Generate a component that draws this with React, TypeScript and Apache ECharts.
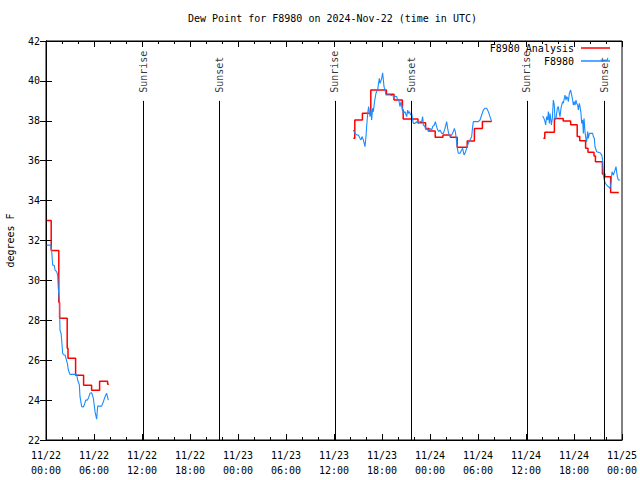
import React, { useEffect, useRef } from 'react';
import * as echarts from 'echarts';

const TITLE = 'Dew Point for F8980 on 2024-Nov-22 (time in UTC)';
const Y_NAME = 'degrees F';
const ANALYSIS_NAME = 'F8980 Analysis';
const OBS_NAME = 'F8980';

// hours since 2024-11-22 00:00 UTC
const X_TICK_LABELS = [
  '11/22\n00:00', '11/22\n06:00', '11/22\n12:00', '11/22\n18:00',
  '11/23\n00:00', '11/23\n06:00', '11/23\n12:00', '11/23\n18:00',
  '11/24\n00:00', '11/24\n06:00', '11/24\n12:00', '11/24\n18:00',
  '11/25\n00:00',
];

// Analysis (step levels: start hour, value; last entry = end of segment)
const analysisHours1 = [0.08, 0.65, 1.6, 1.7, 2.65, 2.75, 3.7, 4.7, 5.7, 6.7, 7.7, 7.85];
const analysisValues1 = [33.0, 31.5, 28.9, 28.1, 26.6, 26.1, 25.25, 24.75, 24.5, 24.95, 24.8, 24.8];
const analysisHours2 = [38.42, 38.6, 39.55, 40.6, 42.55, 43.5, 44.55, 44.65, 46.5, 47.45, 47.85, 48.65, 49.62, 50.55, 51.4, 52.65, 53.55, 54.55, 55.71];
const analysisValues2 = [37.12, 38.04, 38.38, 39.55, 39.33, 39.04, 38.54, 38.09, 37.9, 37.62, 37.49, 37.17, 37.29, 37.17, 36.67, 36.99, 37.62, 37.96, 37.96];
const analysisHours3 = [62.17, 62.35, 63.55, 64.65, 65.58, 66.4, 66.72, 67.45, 67.75, 68.5, 68.68, 69.55, 69.85, 70.58, 71.6];
const analysisValues3 = [37.12, 37.42, 38.12, 37.99, 37.8, 37.21, 37.0, 36.62, 36.42, 36.23, 35.95, 35.33, 35.2, 34.4, 34.4];

// Observations
const obsHours1 = [0.08, 0.58, 0.71, 0.83, 1.04, 1.13, 1.33, 1.46, 1.54, 1.67, 1.75, 1.88, 1.96, 2.08, 2.25, 2.38, 2.5, 2.67, 2.79, 3.0, 3.83, 3.96, 4.17, 4.25, 4.46, 4.67, 4.79, 4.96, 5.17, 5.29, 5.5, 5.71, 5.92, 6.13, 6.33, 6.46, 6.58, 6.96, 7.17, 7.38, 7.58, 7.79];
const obsValues1 = [31.77, 31.77, 31.49, 30.77, 30.74, 30.52, 30.44, 30.27, 29.6, 29.02, 27.51, 27.35, 27.01, 26.35, 26.26, 26.26, 26.09, 25.84, 25.51, 25.29, 25.29, 25.01, 24.76, 24.17, 23.67, 23.66, 23.75, 24.0, 24.0, 24.09, 24.34, 24.37, 24.09, 23.42, 23.04, 23.7, 23.7, 23.7, 23.92, 24.17, 24.34, 24.0];
const obsHours2 = [38.42, 38.625, 38.83, 39.04, 39.25, 39.375, 39.5, 39.67, 39.875, 40.0, 40.08, 40.21, 40.33, 40.5, 40.625, 40.71, 40.83, 40.92, 41.04, 41.17, 41.25, 41.33, 41.46, 41.54, 41.67, 41.75, 41.83, 41.96, 42.08, 42.17, 42.25, 42.375, 42.5, 42.79, 43.0, 43.42, 43.83, 43.96, 44.08, 44.25, 44.375, 44.5, 44.67, 44.875, 45.08, 45.21, 45.29, 45.42, 45.58, 45.71, 45.83, 45.92, 46.125, 46.33, 46.54, 46.75, 46.96, 47.08, 47.17, 47.375, 47.5, 47.67, 47.79, 48.0, 48.21, 48.33, 48.54, 48.67, 48.83, 48.96, 49.125, 49.25, 49.46, 49.67, 49.875, 50.08, 50.21, 50.33, 50.5, 50.71, 50.92, 51.04, 51.17, 51.25, 51.42, 51.54, 51.75, 51.96, 52.08, 52.25, 52.375, 52.58, 52.79, 53.0, 53.21, 53.33, 53.42, 53.83, 54.04, 54.25, 54.46, 54.67, 54.875, 55.08, 55.29, 55.5, 55.71];
const obsValues2 = [37.54, 37.37, 37.29, 37.29, 37.12, 37.04, 37.21, 37.04, 36.7, 37.21, 37.71, 38.37, 38.71, 38.21, 38.54, 38.04, 38.63, 38.46, 38.88, 39.21, 39.38, 39.46, 39.54, 39.8, 40.13, 39.88, 39.96, 40.13, 40.41, 40.05, 39.71, 39.54, 39.29, 39.29, 39.29, 39.24, 39.21, 39.04, 39.08, 38.71, 38.96, 38.71, 38.37, 38.46, 38.21, 38.54, 38.37, 38.46, 38.29, 38.37, 38.04, 37.87, 37.87, 37.96, 37.87, 37.96, 37.96, 38.21, 37.79, 37.71, 37.54, 37.62, 37.46, 37.62, 37.54, 37.71, 37.79, 37.96, 37.71, 37.54, 37.46, 37.54, 37.37, 37.37, 37.62, 37.96, 37.62, 37.37, 37.21, 37.29, 37.46, 37.62, 37.46, 37.21, 36.62, 36.37, 36.37, 36.54, 36.62, 36.29, 36.37, 36.62, 36.87, 37.04, 37.21, 37.71, 37.96, 37.96, 37.96, 38.04, 38.29, 38.54, 38.63, 38.63, 38.46, 38.21, 37.96];
const obsHours3 = [62.08, 62.25, 62.375, 62.46, 62.58, 62.71, 62.79, 62.92, 63.0, 63.08, 63.17, 63.29, 63.42, 63.54, 63.625, 63.75, 63.92, 64.04, 64.17, 64.25, 64.375, 64.46, 64.58, 64.67, 64.79, 64.875, 65.0, 65.08, 65.21, 65.29, 65.42, 65.58, 65.71, 65.79, 65.92, 66.04, 66.125, 66.25, 66.33, 66.46, 66.54, 66.67, 66.75, 66.875, 66.96, 67.08, 67.17, 67.25, 67.375, 67.5, 67.58, 67.71, 67.79, 67.92, 68.125, 68.33, 68.42, 68.54, 68.625, 68.83, 69.25, 69.46, 69.58, 69.67, 69.79, 69.92, 70.08, 70.29, 70.5, 70.625, 70.75, 70.92, 71.125, 71.25, 71.33, 71.42, 71.54, 71.75];
const obsValues3 = [38.24, 38.12, 37.96, 37.79, 38.21, 38.04, 38.46, 37.87, 38.37, 38.12, 37.79, 38.12, 39.04, 38.79, 38.04, 38.12, 38.63, 38.71, 38.37, 38.21, 38.63, 38.79, 38.96, 38.88, 39.13, 39.29, 39.04, 39.21, 39.13, 38.96, 39.38, 39.54, 39.29, 39.13, 38.79, 38.96, 38.79, 39.04, 38.88, 38.79, 38.54, 38.88, 38.71, 38.37, 37.87, 38.04, 37.37, 38.12, 37.46, 37.04, 36.95, 37.46, 37.12, 37.37, 37.37, 37.37, 37.21, 37.12, 36.7, 36.45, 36.4, 36.29, 36.03, 35.28, 35.03, 34.87, 34.78, 34.7, 34.62, 34.87, 35.45, 35.28, 35.53, 35.7, 35.45, 35.2, 35.03, 35.03];

// Sun events
const sunEventHours = [12.17, 21.67, 36.1, 45.67, 60.1, 69.8];
const sunEventNames = ['Sunrise', 'Sunset', 'Sunrise', 'Sunset', 'Sunrise', 'Sunset'];
const SUN_LINE_TOP = 39.0;
const SUN_LABEL_BASE = 39.4;

const FONT = 'DejaVu Sans Mono';

const zip = (h: number[], v: number[]) => h.map((x, i) => [x, v[i]]);
// expand step levels into explicit corner points (value held until next level starts)
const steps = (h: number[], v: number[]) => {
  const out: any[] = [];
  for (let i = 0; i < h.length; i++) {
    out.push([h[i], v[i]]);
    if (i < h.length - 1) out.push([h[i + 1], v[i]]);
  }
  return out;
};

export default function App() {
  const ref = useRef<HTMLDivElement>(null);
  useEffect(() => {
    if (!ref.current) return;
    const chart = echarts.init(ref.current, undefined, { renderer: 'svg' });

    const analysisData = [
      ...steps(analysisHours1, analysisValues1), [10, '-'],
      ...steps(analysisHours2, analysisValues2), [58, '-'],
      ...steps(analysisHours3, analysisValues3),
    ];
    const obsData = [
      ...zip(obsHours1, obsValues1), [10, '-'],
      ...zip(obsHours2, obsValues2), [58, '-'],
      ...zip(obsHours3, obsValues3),
    ];

    const xCommon = {
      type: 'value',
      min: 0,
      max: 72,
      interval: 6,
      axisLine: { show: true, lineStyle: { color: '#000', width: 1 } },
      axisTick: { show: true, inside: true, length: 6, lineStyle: { color: '#000' } },
      minorTick: { show: true, splitNumber: 3, length: 3, lineStyle: { color: '#000' } },
      splitLine: { show: false },
    };
    const yCommon = {
      type: 'value',
      min: 22,
      max: 42,
      interval: 2,
      axisLine: { show: true, lineStyle: { color: '#000', width: 1 } },
      axisTick: { show: true, inside: true, length: 6, lineStyle: { color: '#000' } },
      minorTick: { show: false },
      splitLine: { show: false },
    };

    chart.setOption({
      animation: false,
      backgroundColor: '#fff',
      title: {
        text: TITLE,
        left: 188,
        top: 13,
        padding: 0,
        textStyle: { fontFamily: FONT, fontSize: 10, fontWeight: 'normal', color: '#000' },
      },
      legend: [
        {
          data: [ANALYSIS_NAME],
          right: 30,
          top: 43,
          padding: 0,
          align: 'right',
          icon: 'rect',
          itemWidth: 29,
          itemHeight: 1.5,
          textStyle: { fontFamily: FONT, fontSize: 10, color: '#000', padding: [0, 2, 0, 0] },
        },
        {
          data: [OBS_NAME],
          right: 30,
          top: 56,
          padding: 0,
          align: 'right',
          icon: 'rect',
          itemWidth: 29,
          itemHeight: 1.5,
          textStyle: { fontFamily: FONT, fontSize: 10, color: '#000', padding: [0, 2, 0, 0] },
        },
      ],
      grid: {
        left: 46, right: 18, top: 41, bottom: 40,
        show: true, borderColor: '#000', borderWidth: 1,
        containLabel: false,
        outerBoundsMode: 'none',
      },
      xAxis: [
        {
          ...xCommon,
          position: 'bottom',
          axisLabel: {
            show: true,
            margin: 8,
            lineHeight: 15,
            fontFamily: FONT,
            fontSize: 10,
            color: '#000',
            formatter: (v: number) => X_TICK_LABELS[Math.round(v / 6)] ?? '',
          },
        },
        { ...xCommon, position: 'top', axisLabel: { show: false } },
      ],
      yAxis: [
        {
          ...yCommon,
          position: 'left',
          name: Y_NAME,
          nameLocation: 'middle',
          nameRotate: 90,
          nameGap: 31,
          nameTextStyle: { fontFamily: FONT, fontSize: 10, color: '#000' },
          axisLabel: { show: true, margin: 6, fontFamily: FONT, fontSize: 10, color: '#000' },
        },
        { ...yCommon, position: 'right', axisLabel: { show: false } },
      ],
      series: [
        {
          name: 'sun',
          type: 'scatter',
          xAxisIndex: 0,
          yAxisIndex: 0,
          symbolSize: 1,
          itemStyle: { color: 'rgba(0,0,0,0)' },
          silent: true,
          data: sunEventHours.map((h, i) => ({ value: [h, SUN_LABEL_BASE], name: sunEventNames[i] })),
          label: {
            show: true,
            position: 'inside',
            rotate: 90,
            align: 'left',
            verticalAlign: 'middle',
            formatter: (p: any) => p.name,
            fontFamily: FONT,
            fontSize: 10,
            color: '#000',
          },
          markLine: {
            silent: true,
            symbol: ['none', 'none'],
            label: { show: false },
            lineStyle: { color: '#000', width: 1, type: 'solid' },
            data: sunEventHours.map((h) => [{ coord: [h, 22] }, { coord: [h, SUN_LINE_TOP] }]),
          },
        },
        {
          name: ANALYSIS_NAME,
          type: 'line',
          xAxisIndex: 0,
          yAxisIndex: 0,
          showSymbol: false,
          symbol: 'none',
          connectNulls: false,
          color: '#ff0000',
          lineStyle: { color: '#ff0000', width: 1.5 },
          data: analysisData,
        },
        {
          name: OBS_NAME,
          type: 'line',
          xAxisIndex: 0,
          yAxisIndex: 0,
          showSymbol: false,
          symbol: 'none',
          connectNulls: false,
          color: '#1a8cff',
          lineStyle: { color: '#1a8cff', width: 1.1 },
          data: obsData,
        },
      ],
    });
    return () => chart.dispose();
  }, []);

  return (
    <div
      ref={ref}
      style={{ position: 'fixed', left: 0, top: 0, width: 640, height: 480, background: '#fff' }}
    />
  );
}
